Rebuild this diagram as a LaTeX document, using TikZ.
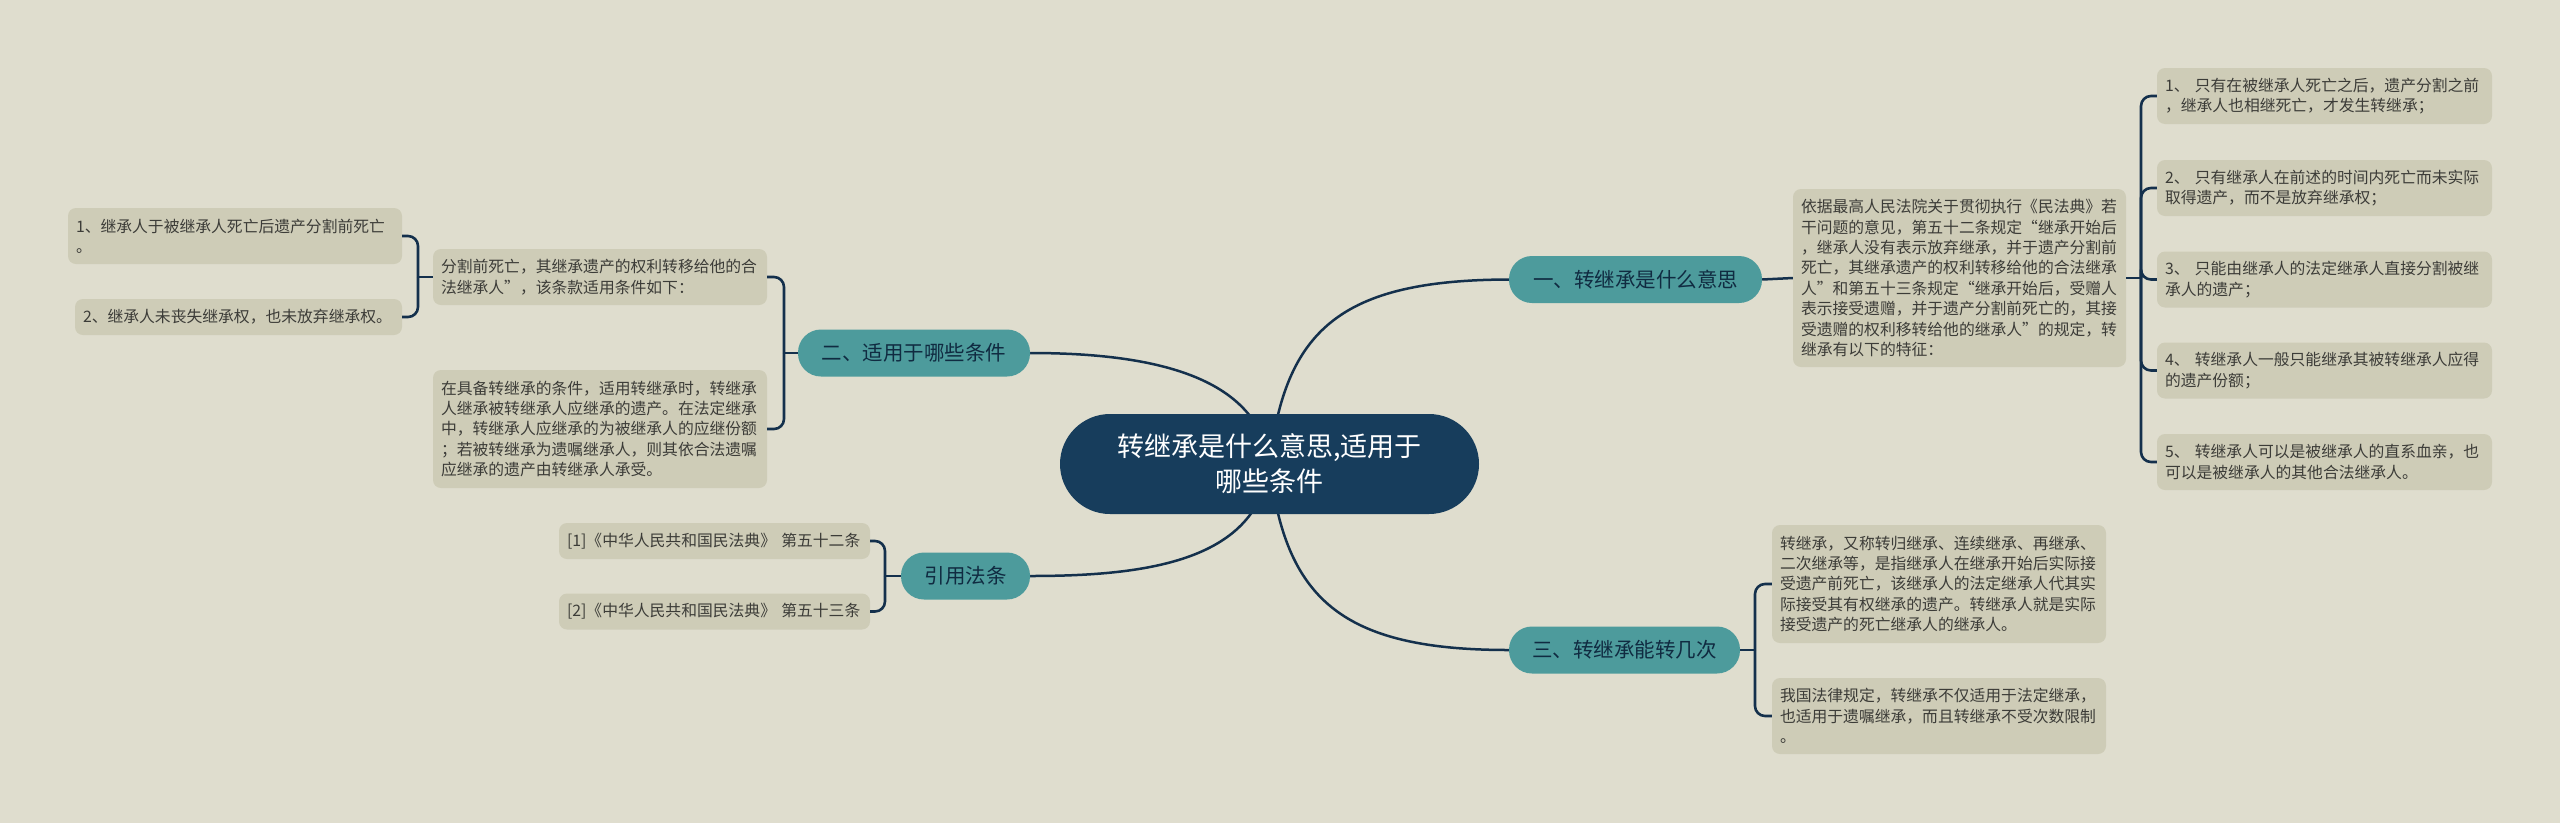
\documentclass[tikz,border=0pt]{standalone}
\usepackage{fontspec}
\setmainfont{Noto Sans CJK SC}
\usepackage{tikz}
\usetikzlibrary{backgrounds}

\definecolor{fond}{HTML}{DFDDCE}
\definecolor{gris}{HTML}{CECCB7}
\definecolor{sarcelle}{HTML}{4D9B9C}
\definecolor{marine}{HTML}{173D5C}
\definecolor{trait}{HTML}{14304C}
\definecolor{texte}{HTML}{3C3C38}

\tikzset{
  racine/.style={fill=marine, text=white, rounded corners=50pt, minimum width=419pt,
    minimum height=100pt, align=center, font=\fontsize{27}{35}\selectfont},
  branche/.style={fill=sarcelle, text=marine!70!black, rounded corners=23pt,
    minimum height=47pt, font=\fontsize{20.5}{24}\selectfont},
  boite/.style={fill=gris, text=texte, rounded corners=8pt, inner xsep=8pt,
    text width=#1, align=left, font=\fontsize{15.8}{20.4}\selectfont},
  lien/.style={draw=trait, line width=2.5pt},
  accolade/.style={draw=trait, line width=2.6pt, rounded corners=10pt},
}

\begin{document}
\begin{tikzpicture}[x=1pt,y=-1pt]
\useasboundingbox (0,0) rectangle (2560,823);

% Racine et branches
\node[racine] (racine) at (1269.5,464) {转继承是什么意思,适用于\\哪些条件};
\node[branche, minimum width=253pt] (b1) at (1635.5,279.5) {一、转继承是什么意思};
\node[branche, minimum width=232pt] (b2) at (914,353) {二、适用于哪些条件};
\node[branche, minimum width=231pt] (b3) at (1624.5,650) {三、转继承能转几次};
\node[branche, minimum width=129pt] (b4) at (965.5,576) {引用法条};

% Boites de droite
\node[boite=317pt, minimum height=178pt] (txt) at (1959.5,278) {依据最高人民法院关于贯彻执行《民法典》若\\
干问题的意见，第五十二条规定“继承开始后\\
，继承人没有表示放弃继承，并于遗产分割前\\
死亡，其继承遗产的权利转移给他的合法继承\\
人”和第五十三条规定“继承开始后，受赠人\\
表示接受遗赠，并于遗产分割前死亡的，其接\\
受遗赠的权利移转给他的继承人”的规定，转\\
继承有以下的特征：};
\node[boite=319pt, minimum height=56pt] (i1) at (2324.5,96) {1、 只有在被继承人死亡之后，遗产分割之前\\，继承人也相继死亡，才发生转继承；};
\node[boite=319pt, minimum height=56pt] (i2) at (2324.5,188) {2、 只有继承人在前述的时间内死亡而未实际\\取得遗产，而不是放弃继承权；};
\node[boite=319pt, minimum height=56pt] (i3) at (2324.5,279.5) {3、 只能由继承人的法定继承人直接分割被继\\承人的遗产；};
\node[boite=319pt, minimum height=56pt] (i4) at (2324.5,370.5) {4、 转继承人一般只能继承其被转继承人应得\\的遗产份额；};
\node[boite=319pt, minimum height=56pt] (i5) at (2324.5,462) {5、 转继承人可以是被继承人的直系血亲，也\\可以是被继承人的其他合法继承人。};
\node[boite=318pt, minimum height=118pt] (t3a) at (1939,584) {转继承，又称转归继承、连续继承、再继承、\\
二次继承等，是指继承人在继承开始后实际接\\
受遗产前死亡，该继承人的法定继承人代其实\\
际接受其有权继承的遗产。转继承人就是实际\\
接受遗产的死亡继承人的继承人。};
\node[boite=318pt, minimum height=76pt] (t3b) at (1939,716) {我国法律规定，转继承不仅适用于法定继承，\\
也适用于遗嘱继承，而且转继承不受次数限制\\
。};

% Boites de gauche
\node[boite=318pt, minimum height=56pt] (t2a) at (600,277) {分割前死亡，其继承遗产的权利转移给他的合\\法继承人”，该条款适用条件如下：};
\node[boite=318pt, minimum height=118pt] (t2b) at (600,429) {在具备转继承的条件，适用转继承时，转继承\\
人继承被转继承人应继承的遗产。在法定继承\\
中，转继承人应继承的为被继承人的应继份额\\
；若被转继承为遗嘱继承人，则其依合法遗嘱\\
应继承的遗产由转继承人承受。};
\node[boite=318pt, minimum height=56pt] (l1) at (235,236) {1、继承人于被继承人死亡后遗产分割前死亡\\。};
\node[boite=311pt, minimum height=36pt] (l2) at (238.5,317) {2、继承人未丧失继承权，也未放弃继承权。};
\node[boite=295pt, minimum height=36pt] (r1) at (714.5,541) {[1]《中华人民共和国民法典》 第五十二条};
\node[boite=295pt, minimum height=36pt] (r2) at (714.5,611.5) {[2]《中华人民共和国民法典》 第五十三条};

% Liens
\begin{scope}[on background layer]
\fill[fond] (0,0) rectangle (2560,823);
\draw[lien] (racine.center) .. controls (1285,330) and (1340,280) .. (b1.west);
\draw[lien] (racine.center) .. controls (1285,598) and (1340,650) .. (b3.west);
\draw[lien] (racine.center) .. controls (1258,375) and (1150,353) .. (b2.east);
\draw[lien] (racine.center) .. controls (1258,560) and (1150,576) .. (b4.east);
\end{scope}

\draw[lien] (b1.east) -- (txt.west);
\coordinate (jd) at (2141,278);
\draw[accolade] (txt.east) -- (jd);
\foreach \i in {1,...,5} \draw[accolade] (jd) |- (i\i.west);

\coordinate (jt) at (1755,650);
\draw[accolade] (b3.east) -- (jt);
\draw[accolade] (jt) |- (t3a.west);
\draw[accolade] (jt) |- (t3b.west);

\coordinate (jg) at (784,353);
\draw[accolade] (b2.west) -- (jg);
\draw[accolade] (jg) |- (t2a.east);
\draw[accolade] (jg) |- (t2b.east);

\coordinate (jh) at (418,277);
\draw[accolade] (t2a.west) -- (jh);
\draw[accolade] (jh) |- (l1.east);
\draw[accolade] (jh) |- (l2.east);

\coordinate (jc) at (885,576);
\draw[accolade] (b4.west) -- (jc);
\draw[accolade] (jc) |- (r1.east);
\draw[accolade] (jc) |- (r2.east);
\end{tikzpicture}
\end{document}
